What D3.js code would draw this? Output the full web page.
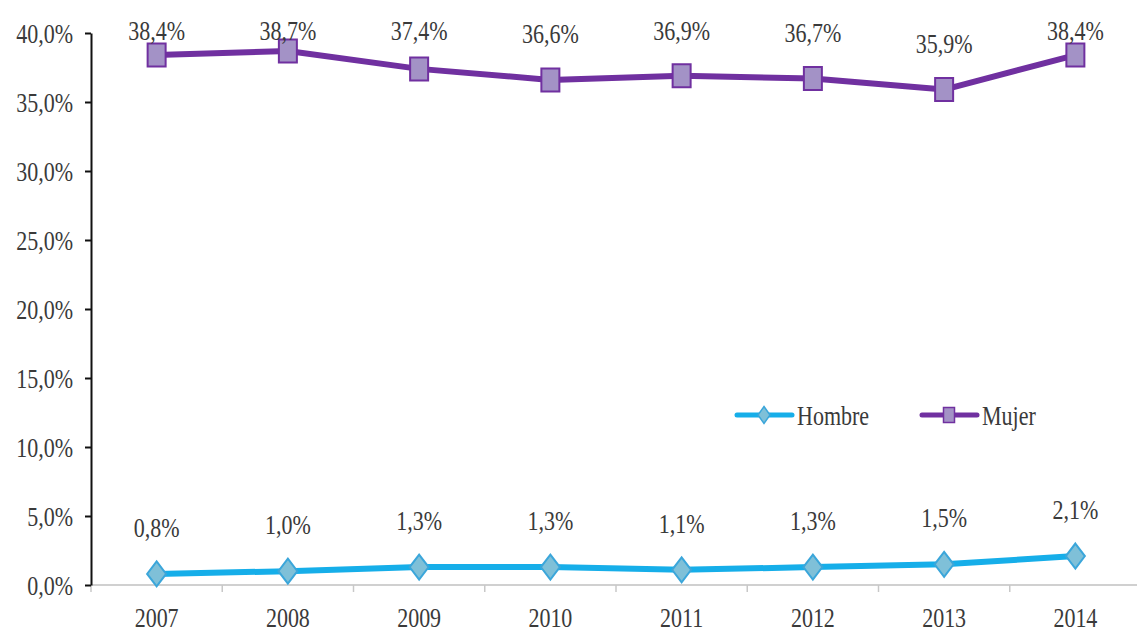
<!DOCTYPE html>
<html>
<head>
<meta charset="utf-8">
<script src="https://cdn.jsdelivr.net/npm/d3@7"></script>
<style>
	body { margin: 0; background: #fff; }
	svg { display: block; font-family: "Liberation Serif", "Times New Roman", serif; }
	text { fill: #3a3a3a; }
</style>
</head>
<body>
<div id="chart"></div>
<script>
const years = ['2007', '2008', '2009', '2010', '2011', '2012', '2013', '2014'];
const hombre = [0.008, 0.010, 0.013, 0.013, 0.011, 0.013, 0.015, 0.021];
const mujer = [0.384, 0.387, 0.374, 0.366, 0.369, 0.367, 0.359, 0.384];
const yTicks = [0, 0.05, 0.10, 0.15, 0.20, 0.25, 0.30, 0.35, 0.40];
const seriesNames = ['Hombre', 'Mujer'];

const width = 1138;
const height = 632;
const stretch = 1.25; // the original text is drawn taller than it is wide

const series = [
	{ name: seriesNames[0], values: hombre, line: '#16aee9', fill: '#7fc0d8', stroke: '#3ba6da', shape: 'diamond' },
	{ name: seriesNames[1], values: mujer, line: '#7030a0', fill: '#a392c6', stroke: '#7030a0', shape: 'square' }
];

const locale = d3.formatLocale({ decimal: ',', thousands: '.', grouping: [3], currency: ['', '€'] });
const pct = locale.format('.1%');

const x = d3.scaleBand()
	.domain(years)
	.range([91, 1141]);

const y = d3.scaleLinear()
	.domain([0, 0.4])
	.range([585, 33]);

const cx = d => x(d) + x.bandwidth() / 2;

const svg = d3.select('#chart')
	.append('svg')
	.attr('width', width)
	.attr('height', height);

// x axis: grey baseline, ticks between the categories
svg.append('line')
	.attr('x1', 91).attr('x2', 1137)
	.attr('y1', y(0)).attr('y2', y(0))
	.attr('stroke', '#d0d0d0')
	.attr('stroke-width', 2);

svg.append('g')
	.selectAll('line')
	.data(years)
	.join('line')
	.attr('x1', d => x(d)).attr('x2', d => x(d))
	.attr('y1', y(0)).attr('y2', y(0) + 7)
	.attr('stroke', '#c8c8c8')
	.attr('stroke-width', 1.5);

svg.append('g')
	.attr('transform', `translate(0,${y(0)})`)
	.call(d3.axisBottom(x).tickSize(0))
	.attr('font-family', null)
	.attr('font-size', 22)
	.call(g => g.select('.domain').remove())
	.call(g => g.selectAll('text')
		.attr('y', 42 / stretch)
		.attr('dy', 0)
		.attr('transform', `scale(1,${stretch})`)
		.attr('fill', '#3a3a3a'));

// y axis
svg.append('g')
	.attr('transform', 'translate(91,0)')
	.call(d3.axisLeft(y).tickValues(yTicks).tickFormat(pct).tickSize(6).tickSizeOuter(0).tickPadding(12))
	.attr('font-family', null)
	.attr('font-size', 22)
	.call(g => g.select('.domain').attr('stroke', '#111').attr('stroke-width', 2))
	.call(g => g.selectAll('.tick line').attr('stroke', '#111').attr('stroke-width', 2))
	.call(g => g.selectAll('text')
		.attr('dy', '0.34em')
		.attr('transform', `scale(1,${stretch})`)
		.attr('fill', '#3a3a3a'));

const symbol = (shape, w, h) => shape === 'diamond'
	? `M0,${-h / 2}L${w / 2},0L0,${h / 2}L${-w / 2},0Z`
	: `M${-w / 2},${-h / 2}H${w / 2}V${h / 2}H${-w / 2}Z`;

const line = d3.line()
	.x((d, i) => cx(years[i]))
	.y(d => y(d));

series.forEach(s => {
	const g = svg.append('g');

	g.append('path')
		.attr('d', line(s.values))
		.attr('fill', 'none')
		.attr('stroke', s.line)
		.attr('stroke-width', 6)
		.attr('stroke-linejoin', 'round');

	g.selectAll('path.marker')
		.data(s.values)
		.join('path')
		.attr('class', 'marker')
		.attr('transform', (d, i) => `translate(${cx(years[i])},${y(d)})`)
		.attr('d', s.shape === 'diamond' ? symbol('diamond', 19, 25) : symbol('square', 18, 23))
		.attr('fill', s.fill)
		.attr('stroke', s.stroke)
		.attr('stroke-width', 2);

	g.selectAll('text.label')
		.data(s.values)
		.join('text')
		.attr('class', 'label')
		.attr('transform', (d, i) => `translate(${cx(years[i])},${Math.max(y(d) - 37, 40)}) scale(1,${stretch})`)
		.attr('text-anchor', 'middle')
		.attr('font-size', 22)
		.text(d => pct(d));
});

// legend
const legend = svg.append('g')
	.attr('transform', 'translate(737,415)')
	.selectAll('g')
	.data(series)
	.join('g')
	.attr('transform', (d, i) => `translate(${i * 185},0)`);

legend.append('line')
	.attr('x1', 0).attr('x2', 55)
	.attr('stroke', d => d.line)
	.attr('stroke-width', 5)
	.attr('stroke-linecap', 'round');

legend.append('path')
	.attr('transform', 'translate(27,0)')
	.attr('d', d => d.shape === 'diamond' ? symbol('diamond', 12, 17) : symbol('square', 11, 15))
	.attr('fill', d => d.fill)
	.attr('stroke', d => d.stroke)
	.attr('stroke-width', 1.5);

legend.append('text')
	.attr('transform', `translate(60,10) scale(1,${stretch})`)
	.attr('font-size', 22)
	.text(d => d.name);
</script>
</body>
</html>
